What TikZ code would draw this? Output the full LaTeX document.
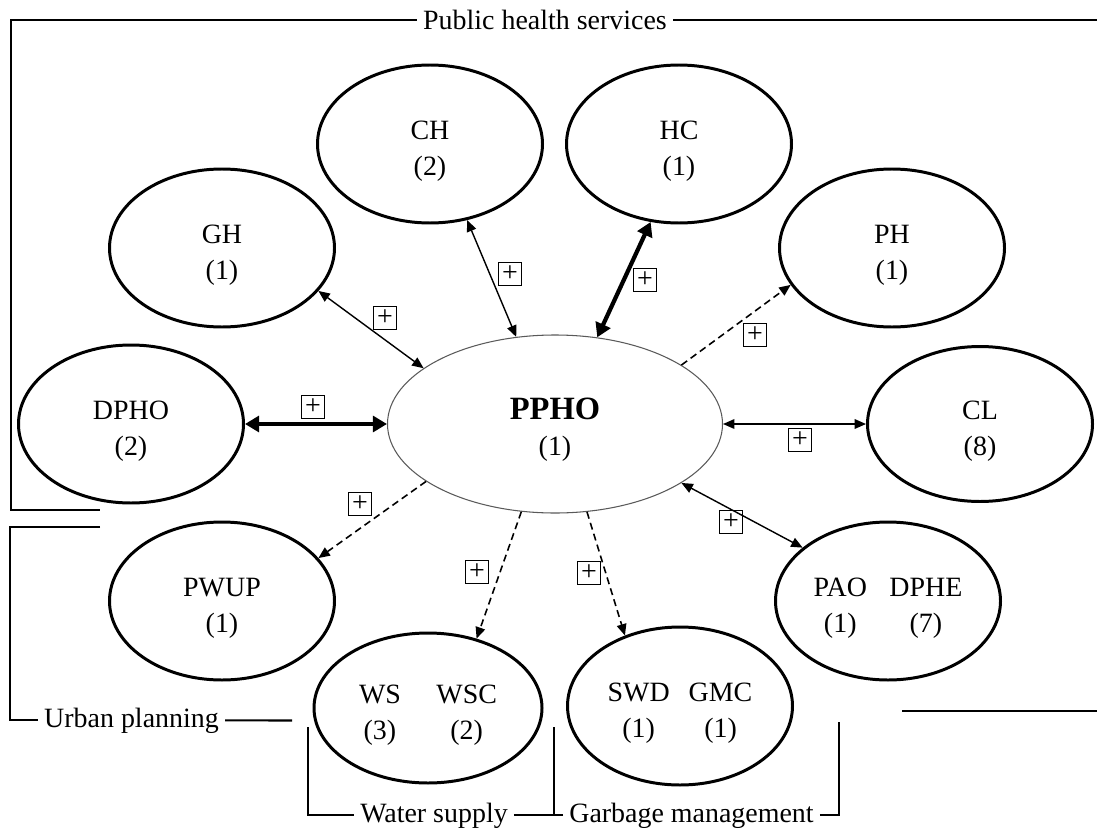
\documentclass[tikz,border=0pt]{standalone}
\usepackage{fontspec}
\setmainfont{Liberation Serif}
\usetikzlibrary{arrows.meta,shapes.geometric}
\newcommand{\lowered}[1]{\raisebox{-3.4pt}[\height][\depth]{#1}}

\begin{document}
\begin{tikzpicture}[
        font=\fontsize{15.9pt}{20.5pt}\selectfont,
        unit/.style={draw, ellipse, line width=1.7pt, minimum width=4.5cm, minimum height=3.16cm, inner sep=0pt, align=center},
        hub/.style={draw=black!65, ellipse, line width=0.6pt, minimum width=6.7cm, minimum height=3.56cm, inner sep=0pt, align=center},
        sign/.style={draw, line width=0.6pt, minimum size=0.46cm, inner sep=0pt},
        link/.style={line width=0.8pt, {Triangle[length=6.5pt,width=5.5pt]}-{Triangle[length=6.5pt,width=5.5pt]}},
        strong/.style={line width=2.4pt, {Triangle[length=8pt,width=9pt]}-{Triangle[length=8pt,width=9pt]}},
        weak/.style={line width=0.9pt, dash pattern=on 4pt off 2.5pt, -{Triangle[length=6.5pt,width=5.5pt]}},
        group/.style={line width=1.2pt},
        grouplabel/.style={anchor=base}
      ]
      \useasboundingbox (0,0) rectangle (21.94,-16.6);

      \node[hub] (ppho) at (11.10,-8.48) {\lowered{\begin{tabular}{@{}c@{}}{\fontsize{18.5pt}{20.5pt}\selectfont\textbf{PPHO}}\\(1)\end{tabular}}};
      \node[unit] (gh) at (4.44,-4.96) {\lowered{\begin{tabular}{@{}c@{}}GH\\(1)\end{tabular}}};
      \node[unit] (ch) at (8.60,-2.88) {\lowered{\begin{tabular}{@{}c@{}}CH\\(2)\end{tabular}}};
      \node[unit] (hc) at (13.58,-2.88) {\lowered{\begin{tabular}{@{}c@{}}HC\\(1)\end{tabular}}};
      \node[unit] (ph) at (17.84,-4.96) {\lowered{\begin{tabular}{@{}c@{}}PH\\(1)\end{tabular}}};
      \node[unit] (dpho) at (2.62,-8.48) {\lowered{\begin{tabular}{@{}c@{}}DPHO\\(2)\end{tabular}}};
      \node[unit, minimum height=3.1cm] (cl) at (19.60,-8.48) {\lowered{\begin{tabular}{@{}c@{}}CL\\(8)\end{tabular}}};
      \node[unit] (pwup) at (4.44,-12.02) {\lowered{\begin{tabular}{@{}c@{}}PWUP\\(1)\end{tabular}}};
      \node[unit] (pao) at (17.76,-12.02) {\lowered{\begin{tabular}{@{}c@{\hspace{0.45cm}}c@{}}PAO & DPHE\\(1) & (7)\end{tabular}}};
      \node[unit, minimum width=4.56cm, minimum height=3.0cm] (ws) at (8.56,-14.16) {\lowered{\begin{tabular}{@{}c@{\hspace{0.71cm}}c@{}}WS & WSC\\(3) & (2)\end{tabular}}};
      \node[unit] (swd) at (13.60,-14.12) {\lowered{\begin{tabular}{@{}c@{\hspace{0.38cm}}c@{}}SWD & GMC\\(1) & (1)\end{tabular}}};

      \draw[link] (gh.-24) -- (ppho.157);
      \draw[link] (ch.-64) -- (ppho.114);
      \draw[strong] (hc.-110) -- (ppho.64);
      \draw[weak] (ppho.25) -- (ph.-160);
      \draw[strong] (dpho.east) -- (ppho.west);
      \draw[link] (ppho.east) -- (cl.west);
      \draw[link] (ppho.-25) -- (pao.148);
      \draw[weak] (ppho.-156) -- (pwup.24);
      \draw[weak] (ppho.-111) -- (ws.55);
      \draw[weak] (ppho.-70) -- (swd.128);

      \node[sign] (s-gh) at (7.70,-6.36) {+};
      \node[sign] (s-ch) at (10.20,-5.48) {+};
      \node[sign] (s-hc) at (12.90,-5.60) {+};
      \node[sign] (s-ph) at (15.10,-6.70) {+};
      \node[sign] (s-dpho) at (6.26,-8.14) {+};
      \node[sign] (s-cl) at (16.00,-8.80) {+};
      \node[sign] (s-pao) at (14.62,-10.44) {+};
      \node[sign] (s-pwup) at (7.20,-10.08) {+};
      \node[sign] (s-ws) at (9.54,-11.44) {+};
      \node[sign] (s-swd) at (11.78,-11.46) {+};

      \node[grouplabel] (phs) at (10.90,-0.60) {Public health services};
      \node[grouplabel] (urb) at (2.63,-14.54) {Urban planning};
      \node[grouplabel] (wsl) at (8.68,-16.44) {Water supply};
      \node[grouplabel] (gml) at (13.83,-16.44) {Garbage management};
      \coordinate (rim) at (21.94,0);

      \draw[group] (phs.west) -| (0.22,-10.2) -- (2.0,-10.2);
      \draw[group] (phs.east) -- (phs.east -| rim);
      \draw[group] (2.0,-10.54) -- (0.2,-10.54) |- (urb.west);
      \draw[group] (urb.east) -- (5.84,-14.41);
      \draw[group] (6.16,-14.54) |- (wsl.west);
      \draw[group] (wsl.east) -| (11.08,-14.54);
      \draw[group] (gml.west) -| (11.08,-14.54);
      \draw[group] (gml.east) -| (16.78,-14.44);
      \draw[group] (18.04,-14.22) -- (21.94,-14.22);
    \end{tikzpicture}
\end{document}
